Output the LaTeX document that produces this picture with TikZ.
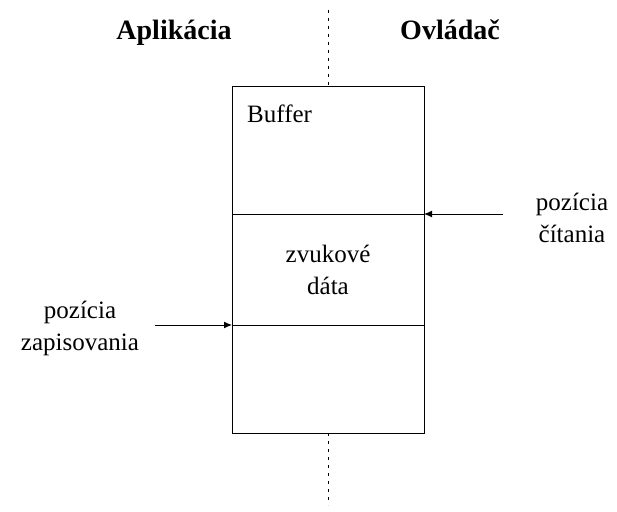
\documentclass[tikz,border=0pt]{standalone}
\usepackage{fontspec}
\setmainfont{Liberation Serif}
\usetikzlibrary{arrows.meta}

\tikzset{
  cell/.style={draw, line width=1pt, minimum width=192pt, inner sep=0pt, outer sep=0pt},
  txt/.style={font=\fontsize{25}{32}\selectfont, align=center, inner sep=0pt},
  title/.style={font=\fontsize{28}{32}\selectfont\bfseries, inner sep=0pt},
  pointer/.style={line width=1pt, -{Latex[length=8pt,width=7pt]}},
  border/.style={line width=1pt, dash pattern=on 3pt off 5pt}
}

\begin{document}
\begin{tikzpicture}[x=1pt,y=-1pt]
      \useasboundingbox (0,0) rectangle (617,511);
      % buffer
      \node[cell, minimum height=128pt] (top) at (328,150) {};
      \node[cell, minimum height=111pt, anchor=north] (mid) at (top.south) {};
      \node[cell, minimum height=108pt, anchor=north] (bot) at (mid.south) {};
      \node[txt, anchor=base west] (buf) at (247,122) {Buffer};
      \node[txt] (data) at (mid.center) {zvukové\\dáta};
      % hranica
      \coordinate (upper) at (328,10);
      \coordinate (lower) at (328,505);
      \draw[border] (upper) -- (top.north);
      \draw[border] (bot.south) -- (lower);
      \node[title, anchor=base] (app) at (174,40) {Aplikácia};
      \node[title, anchor=base] (drv) at (450,40) {Ovládač};
      % pozicie
      \node[txt] (read) at (572,218) {pozícia\\čítania};
      \node[txt] (write) at (80,328) {pozícia\\zapisovania};
      \coordinate (readstart) at (503,214);
      \coordinate (writestart) at (155,325);
      \draw[pointer] (readstart) -- (top.south east);
      \draw[pointer] (writestart) -- (mid.south west);
\end{tikzpicture}
\end{document}
